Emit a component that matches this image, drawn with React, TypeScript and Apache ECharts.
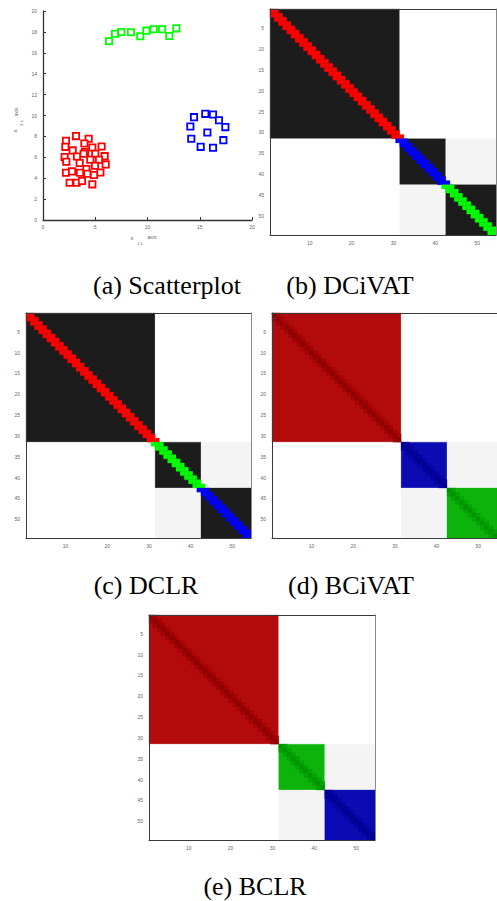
import React, { useEffect, useRef } from "react";
import * as echarts from "echarts";

// ---------- DATA ----------
// scatter points [x, y]
const redPoints: number[][] = [
  [2.2, 7.58], [3.16, 8.03], [4.37, 7.77], [2.14, 7.0], [3.96, 7.32], [5.61, 7.04],
  [4.72, 6.94], [2.84, 6.66], [4.02, 6.5], [3.89, 6.34], [5.0, 6.34], [2.07, 6.02],
  [3.25, 6.08], [5.9, 6.11], [2.23, 5.57], [3.51, 5.45], [4.53, 5.76], [5.36, 5.76],
  [4.98, 5.19], [6.0, 5.32], [4.15, 4.87], [2.2, 4.52], [2.78, 4.65], [3.54, 4.52],
  [4.24, 4.43], [5.49, 4.55], [4.88, 4.3], [2.55, 3.57], [3.22, 3.57], [3.73, 3.73],
  [4.72, 3.41],
];
const greenPoints: number[][] = [
  [6.32, 17.1], [6.89, 17.83], [7.5, 17.99], [8.42, 17.96], [9.31, 17.58],
  [9.89, 18.12], [10.59, 18.25], [11.39, 18.25], [12.09, 17.61], [12.76, 18.34],
];
const bluePoints: number[][] = [
  [14.45, 9.84], [15.53, 10.16], [16.27, 10.1], [16.84, 9.55], [17.45, 8.89],
  [14.1, 8.95], [15.73, 8.38], [14.19, 7.77], [15.09, 7.0], [16.27, 6.91], [17.26, 7.64],
];

// cluster sizes in the reordered matrix
const clusterSizes = [31, 11, 12];
// dissimilarity level between clusters (0 = dark, 1 = white)
const blockDissimilarity = [
  [0, 1, 1],
  [1, 0, 0.95],
  [1, 0.95, 0],
];
const matrixXTickLabels = ["10", "20", "30", "40", "50"];
const matrixYTickLabels = ["5", "10", "15", "20", "25", "30", "35", "40", "45", "50"];
const captions = ["(a) Scatterplot", "(b) DCiVAT", "(c) DCLR", "(d) BCiVAT", "(e) BCLR"];

// ---------- STYLE ----------
const panelKinds = ["D", "D", "B", "B"];
const panelColors = [
  ["#ff0000", "#0000ff", "#00ff00"],
  ["#ff0000", "#00ff00", "#0000ff"],
  ["#b30b0b", "#0b0bb3", "#0bb30b"],
  ["#b30b0b", "#0bb30b", "#0b0bb3"],
];
const panelDiagColors = [
  null,
  null,
  ["#8c0000", "#000090", "#009000"],
  ["#8c0000", "#009000", "#000090"],
];
const panelNearDiagColors = [
  null,
  null,
  ["#a10505", "#0505a2", "#05a205"],
  ["#a10505", "#05a205", "#0505a2"],
];
const matrixGrids = [
  { left: 270, top: 9, width: 226, height: 226 },
  { left: 26, top: 313, width: 225, height: 225 },
  { left: 272, top: 313, width: 225, height: 225 },
  { left: 149, top: 615, width: 226, height: 225 },
];
const captionPos = [
  [167, 285],
  [350, 285],
  [146, 585],
  [351, 585],
  [255, 886],
];

function grayFor(v: number) {
  const lo = 0x1c;
  const g = Math.round(lo + (0xff - lo) * v);
  const h = g.toString(16).padStart(2, "0");
  return "#" + h + h + h;
}

export default function App() {
  const ref = useRef<HTMLDivElement>(null);
  useEffect(() => {
    if (!ref.current) return;
    const chart = echarts.init(ref.current, null, { renderer: "svg" });
    const N = clusterSizes.reduce((a, b) => a + b, 0);
    const cats = Array.from({ length: N }, (_, i) => String(i + 1));
    const starts: number[] = [];
    let acc = 0;
    clusterSizes.forEach((s) => {
      starts.push(acc);
      acc += s;
    });
    const clusterOf = (i: number) => {
      for (let k = clusterSizes.length - 1; k >= 0; k--) if (i >= starts[k]) return k;
      return 0;
    };

    const grids: any[] = [
      { left: 43, top: 11, width: 209, height: 209, outerBoundsMode: "none" },
    ];
    const xAxes: any[] = [
      {
        gridIndex: 0, type: "value", min: 0, max: 20, interval: 5,
        axisLine: { lineStyle: { color: "#333", width: 1.3 } },
        axisTick: { inside: true, length: 3, lineStyle: { color: "#333" } },
        axisLabel: { fontSize: 5, color: "#666", margin: 4, fontFamily: "Liberation Sans" },
        splitLine: { show: false },
      },
    ];
    const yAxes: any[] = [
      {
        gridIndex: 0, type: "value", min: 0, max: 20, interval: 2,
        axisLine: { lineStyle: { color: "#333", width: 1.3 } },
        axisTick: { inside: true, length: 3, lineStyle: { color: "#333" } },
        axisLabel: { fontSize: 5, color: "#666", margin: 6, fontFamily: "Liberation Sans" },
        splitLine: { show: false },
      },
    ];
    const series: any[] = [];
    const mkScatter = (data: number[][], color: string) => ({
      type: "scatter",
      xAxisIndex: 0,
      yAxisIndex: 0,
      data,
      symbol: "rect",
      symbolSize: 6.3,
      itemStyle: { color: "#ffffff", borderColor: color, borderWidth: 1.8, opacity: 1 },
    });
    series.push(mkScatter(redPoints, "#ff0000"));
    series.push(mkScatter(greenPoints, "#00ff00"));
    series.push(mkScatter(bluePoints, "#0000ff"));

    const xInt = (_i: number, v: string) => matrixXTickLabels.includes(v);
    const yInt = (_i: number, v: string) => matrixYTickLabels.includes(v);

    matrixGrids.forEach((g, k) => {
      const gi = k + 1;
      grids.push({ ...g, outerBoundsMode: "none" });
      const line = { show: true, lineStyle: { color: "#3a3a3a", width: 1 } };
      const lbl = { fontSize: 5, color: "#666", fontFamily: "Liberation Sans" };
      const tick = (fn: any) => ({
        inside: true, length: 3, alignWithLabel: true, interval: fn,
        lineStyle: { color: "#444" },
      });
      xAxes.push({
        gridIndex: gi, type: "category", data: cats, position: "bottom", z: 5,
        axisLine: line, axisTick: tick(xInt),
        axisLabel: { ...lbl, interval: xInt, margin: 5 },
        splitLine: { show: false },
      });
      xAxes.push({
        gridIndex: gi, type: "category", data: cats, position: "top", z: 5,
        axisLine: line, axisTick: tick(xInt),
        axisLabel: { show: false },
        splitLine: { show: false },
      });
      yAxes.push({
        gridIndex: gi, type: "category", data: cats, position: "left", inverse: true, z: 5,
        axisLine: line, axisTick: tick(yInt),
        axisLabel: { ...lbl, interval: yInt, margin: 6 },
        splitLine: { show: false },
      });
      yAxes.push({
        gridIndex: gi, type: "category", data: cats, position: "right", inverse: true, z: 5,
        axisLine: { show: true, lineStyle: { color: "#888", width: 1 } }, axisTick: tick(yInt),
        axisLabel: { show: false },
        splitLine: { show: false },
      });

      // build cell/block items
      const items: { value: number[]; color: string }[] = [];
      const kind = panelKinds[k];
      const cols = panelColors[k];
      for (let a = 0; a < clusterSizes.length; a++) {
        for (let b = 0; b < clusterSizes.length; b++) {
          let color: string;
          if (a === b && kind === "B") color = cols[a];
          else color = grayFor(blockDissimilarity[a][b]);
          items.push({
            value: [starts[b], starts[b] + clusterSizes[b] - 1, starts[a], starts[a] + clusterSizes[a] - 1],
            color,
          });
        }
      }
      for (let i = 0; i < N; i++) {
        for (let d = -1; d <= 1; d++) {
          const j = i + d;
          if (j < 0 || j >= N) continue;
          const ci = clusterOf(i);
          const cj = clusterOf(j);
          let color: string;
          if (kind === "D") {
            color = cols[ci];
          } else {
            if (ci !== cj) continue;
            color = d === 0 ? (panelDiagColors[k] as string[])[ci] : (panelNearDiagColors[k] as string[])[ci];
          }
          items.push({ value: [j, j, i, i], color });
        }
      }
      series.push({
        type: "custom",
        xAxisIndex: 2 * k + 1,
        yAxisIndex: 2 * k + 1,
        encode: { x: [0, 1], y: [2, 3] },
        data: items.map((it) => it.value),
        renderItem: (params: any, api: any) => {
          const c0 = api.value(0);
          const c1 = api.value(1);
          const r0 = api.value(2);
          const r1 = api.value(3);
          const p0 = api.coord([c0, r0]);
          const p1 = api.coord([c1, r1]);
          const sz = api.size([1, 1]);
          const x0 = Math.min(p0[0], p1[0]) - sz[0] / 2;
          const x1 = Math.max(p0[0], p1[0]) + sz[0] / 2;
          const y0 = Math.min(p0[1], p1[1]) - sz[1] / 2;
          const y1 = Math.max(p0[1], p1[1]) + sz[1] / 2;
          const col = items[params.dataIndex].color;
          return {
            type: "rect",
            shape: { x: x0, y: y0, width: x1 - x0, height: y1 - y0 },
            style: { fill: col, stroke: col, lineWidth: 0.3 },
          };
        },
        z: 1,
      });
    });

    const graphics: any[] = captions.map((t, i) => ({
      type: "text",
      x: captionPos[i][0],
      y: captionPos[i][1],
      style: {
        text: t,
        font: '26px "Liberation Serif"',
        fill: "#000",
        align: "center",
        verticalAlign: "middle",
      },
    }));
    const small = (text: string, x: number, y: number, size: number, rot = 0) => ({
      type: "text",
      x,
      y,
      rotation: rot,
      style: {
        text,
        font: size + 'px "Liberation Sans"',
        fill: "#666",
        align: "center",
        verticalAlign: "middle",
      },
    });
    graphics.push(small("x", 132, 238, 6));
    graphics.push(small("1 k", 140, 243, 4));
    graphics.push(small("axis", 152, 237, 5));
    graphics.push(small("x", 15, 131, 6, Math.PI / 2));
    graphics.push(small("2 k", 21, 123, 4, Math.PI / 2));
    graphics.push(small("axis", 16, 112, 5, Math.PI / 2));

    chart.setOption({
      animation: false,
      backgroundColor: "#ffffff",
      grid: grids,
      xAxis: xAxes,
      yAxis: yAxes,
      series,
      graphic: graphics,
    });
    return () => chart.dispose();
  }, []);
  return (
    <div
      ref={ref}
      style={{ position: "fixed", left: 0, top: 0, width: 497, height: 901 }}
    />
  );
}
